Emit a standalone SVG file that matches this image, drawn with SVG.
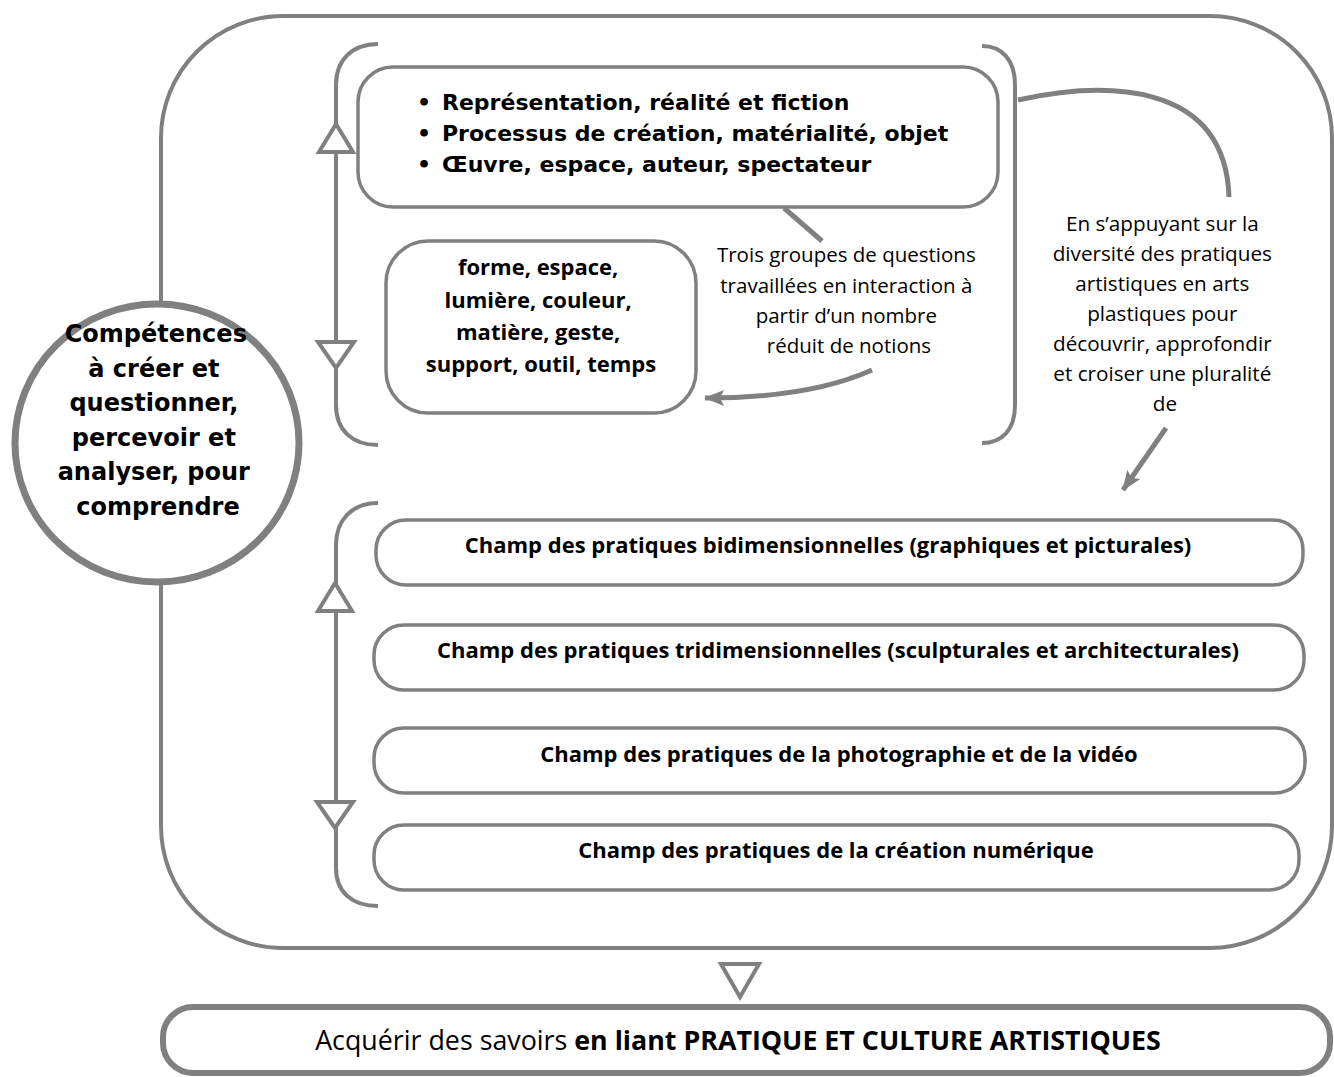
<svg xmlns="http://www.w3.org/2000/svg" width="1334" height="1077" viewBox="0 0 1334 1077">
<style>
.ln{fill:none;stroke:#808080;stroke-width:4}
.cn{fill:none;stroke:#808080;stroke-width:5}
.box{fill:#fff;stroke:#808080;stroke-width:3.5}
.tri{fill:#fff;stroke:#808080;stroke-width:4}
.dv{font-family:'DejaVu Sans',sans-serif;font-weight:bold;fill:#000}
.os{font-family:'Open Sans','Noto Sans',sans-serif;fill:#000}
.b{font-weight:bold}
</style>
<defs>
<marker id="ah" markerUnits="userSpaceOnUse" viewBox="0 0 20 16" refX="19" refY="8" markerWidth="20" markerHeight="16" orient="auto">
<path d="M0,0 L20,8 L0,16 L4,8 Z" fill="#808080"/>
</marker>
</defs>

<!-- outer frame -->
<g id="frame">
<rect x="161" y="16" width="1171" height="932" rx="122" class="ln"/>
</g>

<!-- connectors -->
<g id="connectors">
<path d="M378,44 C352,44 336,60 336,85 L336,405 C336,430 352,445 378,445" class="ln"/>
<polygon points="336,124 353,152 319,152" class="tri"/>
<polygon points="318,342 354,342 336,368" class="tri"/>
<path d="M378,503 C352,503 336,520 336,545 L336,868 C336,892 352,906 378,906" class="ln"/>
<polygon points="335,583 352,611 318,611" class="tri"/>
<polygon points="317,802 353,802 335,828" class="tri"/>
<path d="M982,46 C1002,46 1015,60 1015,85 L1015,405 C1015,430 1002,443 982,443" class="ln"/>
<line x1="784" y1="208" x2="822" y2="241" class="cn"/>
<path d="M872,370 Q810,398 705,398" class="cn" marker-end="url(#ah)"/>
<path d="M1018,100 C1100,82 1225,78 1229,197" class="cn"/>
<path d="M1166,428 L1123,490" class="cn" marker-end="url(#ah)"/>
<polygon points="721,964 759,964 740,997" class="tri"/>
</g>

<!-- central circle -->
<g id="competences">
<ellipse cx="157" cy="443" rx="142" ry="139" fill="#fff" stroke="#808080" stroke-width="7"/>
<text class="dv" font-size="24" text-anchor="middle">
<tspan x="160" y="342">Compétences</tspan>
<tspan x="158" y="376.5">à créer et</tspan>
<tspan x="158" y="411">questionner,</tspan>
<tspan x="158" y="445.5">percevoir et</tspan>
<tspan x="158" y="480">analyser, pour</tspan>
<tspan x="158" y="514.5">comprendre</tspan>
</text>
</g>

<g id="questions">
<rect x="358" y="67" width="640" height="140" rx="35" class="box"/>
<text class="dv" font-size="22">
<tspan x="417" y="110">•</tspan>
<tspan x="442" y="110">Représentation, réalité et fiction</tspan>
<tspan x="417" y="141">•</tspan>
<tspan x="442" y="141">Processus de création, matérialité, objet</tspan>
<tspan x="417" y="172">•</tspan>
<tspan x="442" y="172">Œuvre, espace, auteur, spectateur</tspan>
</text>
</g>

<g id="notions">
<rect x="386" y="241" width="310" height="172" rx="42" class="box"/>
<text class="os b" font-size="22" text-anchor="middle">
<tspan x="541" y="275">forme, espace,</tspan>
<tspan x="541" y="308">lumière, couleur,</tspan>
<tspan x="541" y="340">matière, geste,</tspan>
<tspan x="541" y="372">support, outil, temps</tspan>
</text>
</g>

<g id="label-trois">
<text class="os" font-size="20.5" text-anchor="middle">
<tspan x="849" y="262">Trois groupes de questions</tspan>
<tspan x="849" y="293">travaillées en interaction à</tspan>
<tspan x="849" y="323">partir d’un nombre</tspan>
<tspan x="849" y="353">réduit de notions</tspan>
</text>
</g>

<g id="label-appui">
<text class="os" font-size="20.7" text-anchor="middle">
<tspan x="1165" y="231">En s’appuyant sur la</tspan>
<tspan x="1165" y="261">diversité des pratiques</tspan>
<tspan x="1165" y="291">artistiques en arts</tspan>
<tspan x="1165" y="321">plastiques pour</tspan>
<tspan x="1165" y="351">découvrir, approfondir</tspan>
<tspan x="1165" y="381">et croiser une pluralité</tspan>
<tspan x="1165" y="411">de</tspan>
</text>
</g>

<g id="champ-bi">
<rect x="376" y="520" width="927" height="65" rx="30" class="box"/>
<text class="os b" font-size="22" text-anchor="middle" x="828" y="553">Champ des pratiques bidimensionnelles (graphiques et picturales)</text>
</g>
<g id="champ-tri">
<rect x="374" y="625" width="930" height="65" rx="30" class="box"/>
<text class="os b" font-size="22" text-anchor="middle" x="838" y="658">Champ des pratiques tridimensionnelles (sculpturales et architecturales)</text>
</g>
<g id="champ-photo">
<rect x="374" y="728" width="931" height="65" rx="30" class="box"/>
<text class="os b" font-size="22" text-anchor="middle" x="839" y="762">Champ des pratiques de la photographie et de la vidéo</text>
</g>
<g id="champ-num">
<rect x="374" y="825" width="925" height="65" rx="30" class="box"/>
<text class="os b" font-size="22" text-anchor="middle" x="836" y="858">Champ des pratiques de la création numérique</text>
</g>

<g id="savoirs">
<rect x="163" y="1007" width="1167" height="66" rx="30" fill="#fff" stroke="#808080" stroke-width="6"/>
<text class="os" font-size="26.8" text-anchor="middle" x="738" y="1050">Acquérir des savoirs <tspan class="b">en liant PRATIQUE ET CULTURE ARTISTIQUES</tspan></text>
</g>
</svg>
